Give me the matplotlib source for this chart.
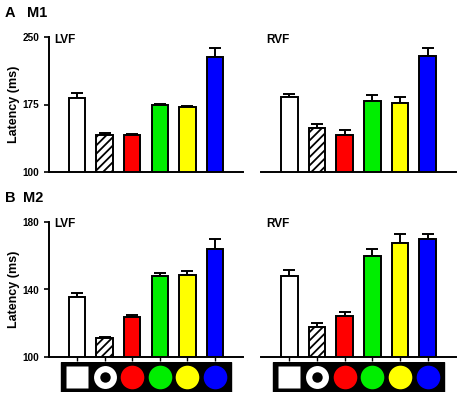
import matplotlib
matplotlib.use("Agg")
import matplotlib.pyplot as plt
import numpy as np

plt.rcParams['font.family'] = ['Liberation Sans', 'DejaVu Sans']
plt.rcParams['font.weight'] = 'bold'
plt.rcParams['hatch.linewidth'] = 1.3

categories = ["white", "ring", "red", "green", "yellow", "blue"]
bar_colors = ["white", "white", "#ff0000", "#00ee00", "#ffff00", "#0000ff"]
hatches = [None, "////", None, None, None, None]

m1_lvf = [182, 141.5, 141, 174, 172, 228]
m1_lvf_err = [6, 2, 1.2, 1.2, 1.5, 10]
m1_rvf = [183.5, 149, 141.5, 179, 177, 229]
m1_rvf_err = [3, 3.8, 5, 6.5, 6, 9]
m2_lvf = [135.4, 111.4, 123.6, 148, 148.6, 164.1]
m2_lvf_err = [2.7, 0.4, 1.6, 2, 2.4, 5.5]
m2_rvf = [147.8, 117.7, 124.4, 159.8, 167.4, 169.8]
m2_rvf_err = [3.7, 2.7, 2.5, 4.3, 5.5, 3.1]

m1_ticks = [100, 175, 250]
m2_ticks = [100, 140, 180]

W, H = 459, 395
fig = plt.figure(figsize=(W / 100, H / 100), dpi=100)

def rect(x0, y0, x1, y1):
    return [x0 / W, 1 - y1 / H, (x1 - x0) / W, (y1 - y0) / H]

x = np.arange(len(categories))

def panel(r, vals, errs, ticks, field, left, bottom_ticks):
    ax = fig.add_axes(r)
    for i in range(len(vals)):
        ax.bar(x[i], vals[i] - ticks[0], bottom=ticks[0], width=0.6,
               color=bar_colors[i], edgecolor='black', linewidth=1.4,
               hatch=hatches[i], zorder=3)
    ax.errorbar(x, vals, yerr=[np.zeros(len(vals)), errs], fmt='none',
                ecolor='black', elinewidth=1.4, capsize=4, capthick=1.4, zorder=2)
    ax.set_xlim(-1.02, 6.02)
    ax.set_ylim(ticks[0], ticks[-1])
    for s in ['top', 'right']:
        ax.spines[s].set_visible(False)
    ax.spines['bottom'].set_linewidth(1.4)
    ax.spines['left'].set_linewidth(1.4)
    if left:
        ax.set_yticks(ticks)
        ax.set_yticklabels([str(t) for t in ticks], fontsize=7.2, fontweight='bold')
        ax.tick_params(axis='y', length=3.5, width=1.2, pad=3.5)
        ax.set_ylabel("Latency (ms)", fontsize=9, fontweight='bold', labelpad=2)
    else:
        ax.spines['left'].set_visible(False)
        ax.set_yticks([])
    if bottom_ticks:
        ax.set_xticks(x)
        ax.set_xticklabels([])
        ax.tick_params(axis='x', length=3, width=1.0)
    else:
        ax.set_xticks([])
    ax.text(0.025, 0.98, field, transform=ax.transAxes, fontsize=8.5,
            fontweight='bold', va='center', ha='left')
    return ax

panel(rect(49, 37, 243, 172), m1_lvf, m1_lvf_err, m1_ticks, "LVF", True, False)
panel(rect(261, 37, 456, 172), m1_rvf, m1_rvf_err, m1_ticks, "RVF", False, False)
panel(rect(49, 221.7, 243, 357.3), m2_lvf, m2_lvf_err, m2_ticks, "LVF", True, True)
panel(rect(261, 221.7, 456, 357.3), m2_rvf, m2_rvf_err, m2_ticks, "RVF", False, True)

# stimulus strips
for x0, x1 in [(49, 243), (261, 456)]:
    sx = fig.add_axes(rect(x0, 361.5, x1, 392))
    sx.set_xlim(-1.02, 6.02)
    sx.set_ylim(0, 1)
    sx.axis('off')
    sx.add_patch(plt.Rectangle((-0.6, 0), 6.2, 1, color='black'))
    for i, c in enumerate(bar_colors):
        if i == 0:
            sx.plot(x[i], 0.5, marker='s', ms=16.5, mfc='white', mec='none')
        elif i == 1:
            sx.plot(x[i], 0.5, marker='o', ms=16.5, mfc='white', mec='none')
            sx.plot(x[i], 0.5, marker='o', ms=7.5, mfc='black', mec='none')
        else:
            sx.plot(x[i], 0.5, marker='o', ms=17, mfc=c, mec='none')

fig.text(5 / W, 1 - 13 / H, "A", fontsize=10.5, fontweight='bold', va='center')
fig.text(27 / W, 1 - 13 / H, "M1", fontsize=10.5, fontweight='bold', va='center')
fig.text(5 / W, 1 - 198 / H, "B", fontsize=10.5, fontweight='bold', va='center')
fig.text(23 / W, 1 - 198 / H, "M2", fontsize=10.5, fontweight='bold', va='center')

fig.savefig("out.png", dpi=100)
